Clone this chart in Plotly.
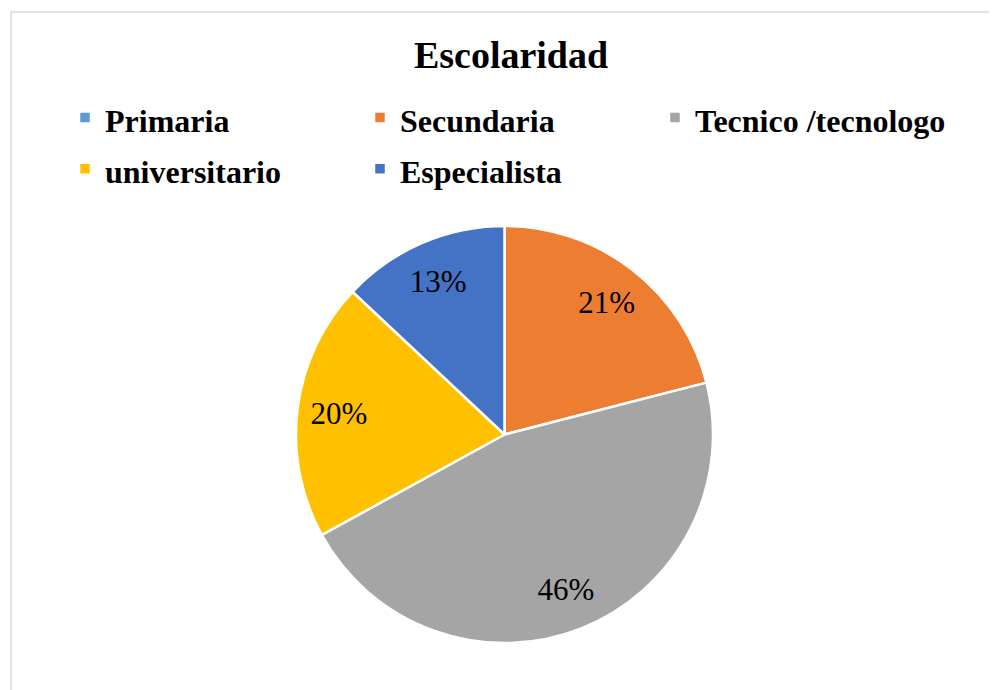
import plotly.graph_objects as go

categories = ["Primaria", "Secundaria", "Tecnico /tecnologo", "universitario", "Especialista"]
values = [0, 21, 46, 20, 13]
colors = ["#5B9BD5", "#ED7D31", "#A5A5A5", "#FFC000", "#4472C4"]
title_text = "Escolaridad"

W, H = 997, 690
OFF = 8  # page body margin
cx, cy, r = 504.5 - OFF, 434.5 - OFF, 208.5

dom = dict(x=[(cx - r) / W, (cx + r) / W], y=[1 - (cy + r) / H, 1 - (cy - r) / H])
texts = ["" if v == 0 else "%{percent:.0%}" for v in values]
legend_labels = ["<span style='font-size:32px'><b>" + c + "</b></span>" for c in categories]

# base pie: coloured slices with white separators
pie_base = go.Pie(
    labels=legend_labels,
    values=values,
    sort=False,
    direction="clockwise",
    rotation=0,
    marker=dict(colors=colors, line=dict(color="white", width=2.5)),
    textinfo="none",
    domain=dom,
    hoverinfo="label+percent",
)
# label layer: same pie, transparent, only carries the percentage text (placed at ~0.8 r)
pie_text = go.Pie(
    labels=legend_labels,
    values=values,
    sort=False,
    direction="clockwise",
    rotation=0,
    hole=0.6,
    marker=dict(colors=["rgba(0,0,0,0)"] * len(values), line=dict(width=0)),
    texttemplate=texts,
    textposition="inside",
    insidetextorientation="horizontal",
    textfont=dict(family="Liberation Serif", size=31, color="black"),
    domain=dom,
    hoverinfo="skip",
    showlegend=False,
)

fig = go.Figure([pie_base, pie_text])

fig.update_layout(
    width=W, height=H,
    margin=dict(l=0, r=0, t=0, b=0),
    paper_bgcolor="white",
    title=dict(text="<b>" + title_text + "</b>", x=(511 - OFF) / W, xanchor="center",
               y=1 - (55 - OFF) / H, yanchor="middle",
               font=dict(family="Liberation Serif", size=38, color="black")),
    legend=dict(orientation="h", x=(65 - OFF) / W, xanchor="left", y=1 - 79 / H, yanchor="top",
                entrywidth=250, entrywidthmode="pixels",
                bgcolor="rgba(0,0,0,0)",
                font=dict(family="Liberation Serif", size=37, color="black"),
                traceorder="normal", itemclick=False),
    showlegend=True,
    shapes=[dict(type="rect", xref="paper", yref="paper", x0=(11 - OFF) / W, x1=1.05,
                 y0=-0.05, y1=1 - (12 - OFF) / H, line=dict(color="#D9D9D9", width=1.5),
                 fillcolor="rgba(0,0,0,0)", layer="below")],
)

fig.write_html("out.html")
